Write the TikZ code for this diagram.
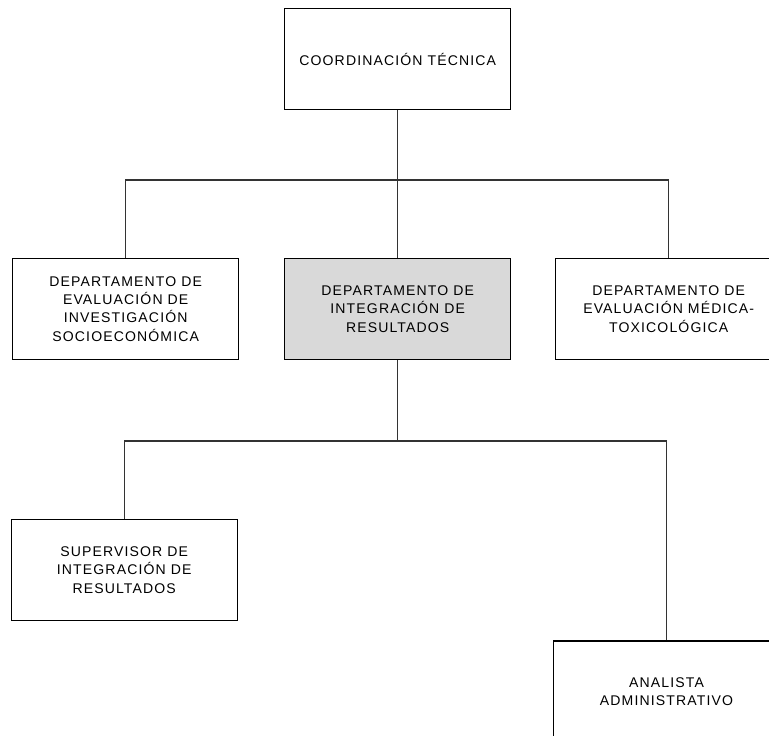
\documentclass[tikz,border=0pt]{standalone}
\usepackage{fontspec}
\setmainfont{Liberation Sans}[LetterSpace=8]
\tikzset{
    unit/.style={draw=black, line width=0.6pt, minimum width=4.52cm, minimum height=2.02cm,
        inner sep=0pt, align=center, font=\fontsize{8}{10.4}\selectfont},
    link/.style={draw=black!80, line width=0.6pt}
}

\begin{document}
\begin{tikzpicture}[x=0.02cm, y=-0.02cm]

    \useasboundingbox (0,0) rectangle (769,736);

    \node[unit] (coord) at (397.7,59.3) {COORDINACIÓN TÉCNICA};

    \node[unit] (socio) at (125.7,309) {DEPARTAMENTO DE\\EVALUACIÓN DE\\INVESTIGACIÓN\\SOCIOECONÓMICA};
    \node[unit, fill=black!15] (integ) at (397.7,309) {DEPARTAMENTO DE\\INTEGRACIÓN DE\\RESULTADOS};
    \node[unit] (medic) at (668.7,309) {DEPARTAMENTO DE\\EVALUACIÓN MÉDICA-\\TOXICOLÓGICA};

    \node[unit] (superv) at (124.2,570) {SUPERVISOR DE\\INTEGRACIÓN DE\\RESULTADOS};
    \node[unit] (analista) at (666.5,691.5) {ANALISTA\\ADMINISTRATIVO};

    \coordinate (bus1) at (0,180);
    \coordinate (bus2) at (0,441);

    \draw[link] (coord) -- (integ);
    \draw[link] (socio) -- (socio |- bus1) -- (medic |- bus1) -- (medic);
    \draw[link] (integ) -- (integ |- bus2);
    \draw[link] (superv) -- (superv |- bus2) -- (analista |- bus2) -- (analista);

\end{tikzpicture}
\end{document}
